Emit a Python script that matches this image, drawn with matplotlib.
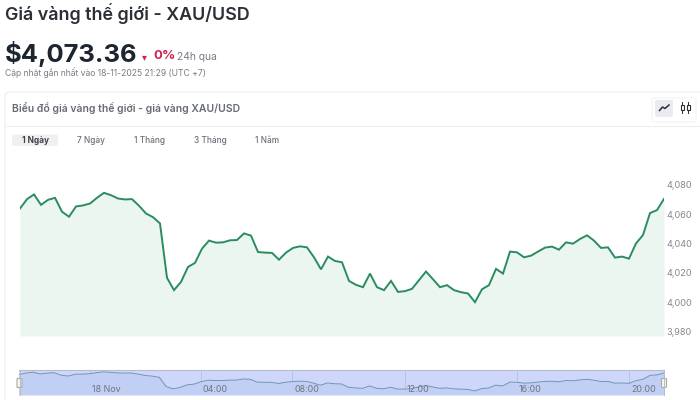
import matplotlib
matplotlib.use("Agg")
import matplotlib.pyplot as plt
from matplotlib.patches import FancyBboxPatch, Rectangle

prices = [4063.9,4070.3,4073.5,4066.4,4069.8,4071.2,4061.7,4058.3,4065.3,4066.0,4067.3,4071.2,
          4074.6,4073.0,4070.7,4070.1,4070.3,4065.8,4060.5,4058.0,4053.7,4016.6,4008.2,4013.8,
          4024.0,4026.8,4036.5,4042.0,4040.6,4040.8,4042.2,4042.4,4046.9,4045.4,4034.2,4033.8,
          4033.6,4029.0,4033.8,4037.0,4038.1,4037.4,4030.6,4022.4,4031.1,4028.1,4027.2,4014.5,
          4011.8,4010.2,4019.5,4010.2,4008.2,4014.5,4007.0,4007.5,4009.1,4015.0,4020.9,4015.6,
          4010.2,4011.6,4008.2,4006.8,4005.9,4000.0,4008.8,4011.6,4022.7,4019.5,4034.5,4034.0,
          4030.6,4031.7,4034.5,4037.2,4037.9,4035.8,4040.8,4039.9,4043.1,4045.6,4042.0,4037.0,
          4037.4,4030.4,4031.1,4029.7,4040.1,4045.8,4060.8,4062.8,4070.5]
y_ticks = [3980, 4000, 4020, 4040, 4060, 4080]
y_labels = ["3,980", "4,000", "4,020", "4,040", "4,060", "4,080"]
nav_pos = [10.1, 25.9, 39.0, 55.0, 71.0, 87.0]
nav_labels = ["18 Nov", "04:00", "08:00", "12:00", "16:00", "20:00"]
ranges = ["1 Ngày", "7 Ngày", "1 Tháng", "3 Tháng", "1 Năm"]
range_x = [35, 91, 149, 210, 267]

FONT = ["Inter", "DejaVu Sans"]
plt.rcParams["font.family"] = FONT
W, H = 700, 400
fig = plt.figure(figsize=(7, 4), dpi=100, facecolor="white")

def rect(l, t, r, b):
    return [l / W, 1 - b / H, (r - l) / W, (b - t) / H]

# page chrome
ui = fig.add_axes([0, 0, 1, 1], zorder=0)
ui.set_xlim(0, W); ui.set_ylim(H, 0); ui.axis("off")
ui.text(5, 14, "Giá vàng thế giới - XAU/USD", fontsize=12.9, fontweight=600, color="#2b2f36", va="center")
ui.text(5, 54, "$4,073.36", fontsize=18.4, fontweight=700, color="#1d2530", va="center")
ui.text(142, 57, "▾", fontsize=7, color="#d0234f", va="center", ha="left", family="DejaVu Sans")
ui.text(153, 56, "0%", fontsize=9.5, fontweight=700, color="#d0234f", va="center")
ui.text(177, 57.5, "24h qua", fontsize=7.4, color="#777c85", va="center")
ui.text(5, 73, "Cập nhật gần nhất vào 18-11-2025 21:29 (UTC +7)", fontsize=6.2, color="#777c85", va="center")
ui.add_patch(FancyBboxPatch((5, 92), 720, 320, boxstyle="round,pad=0,rounding_size=5",
                            fc="white", ec="#eeeeef", lw=0.8))
ui.plot([5, 700], [126, 126], color="#eeeeef", lw=0.8)
ui.text(12, 108, "Biểu đồ giá vàng thế giới - giá vàng XAU/USD", fontsize=7.5, fontweight=600, color="#666b73", va="center")
ui.add_patch(FancyBboxPatch((12, 134.5), 46, 11.5, boxstyle="round,pad=0,rounding_size=2", fc="#f0f0f1", ec="none"))
for i, (lab, x) in enumerate(zip(ranges, range_x)):
    ui.text(x, 140.5, lab, fontsize=6, fontweight=700 if i == 0 else 500,
            color="#3c4047" if i == 0 else "#6a6f77", ha="center", va="center")
# chart-type switch
ui.add_patch(FancyBboxPatch((652, 98), 44, 24, boxstyle="round,pad=0,rounding_size=2", fc="white", ec="#f1f1f2", lw=0.7))
ui.add_patch(FancyBboxPatch((655, 100), 18, 17, boxstyle="round,pad=0,rounding_size=2", fc="#e9ebf1", ec="none"))
ui.plot([659.5, 662.5, 665, 669], [110.5, 107, 108.5, 105], color="#2a2f38", lw=1.1)
for x, (a, b), (c, d) in [(682, (102, 113), (105, 110)), (688, (102, 113), (105, 110))]:
    ui.plot([x, x], [a, b], color="#2a2f38", lw=0.7)
    ui.add_patch(Rectangle((x - 1.5, c), 3, d - c, fc="white", ec="#2a2f38", lw=0.8, zorder=3))

# main chart
ax = fig.add_axes(rect(20, 160, 664, 336), zorder=1)
ax.patch.set_alpha(0)
x = list(range(len(prices)))
ax.fill_between(x, prices, 3976.9, color="#ebf6f0", lw=0)
ax.plot(x, prices, color="#2a8c60", lw=1.4, solid_joinstyle="miter")
ax.set_xlim(0, len(prices) - 1)
ax.set_ylim(3976.9, 4097)
ax.set_xticks([])
ax.yaxis.tick_right()
ax.set_yticks(y_ticks, y_labels)
ax.tick_params(axis="y", length=0, pad=2, labelsize=6.6, labelcolor="#85888f")
for s in ax.spines.values():
    s.set_visible(False)

# navigator
nav = fig.add_axes(rect(19, 370, 664, 395), zorder=1)
nav.set_facecolor("#ced7fa")
nav.fill_between(x, prices, 3984, color="#c2cff5", lw=0)
nav.plot(x, prices, color="#6f96b5", lw=0.7)
nav.set_xlim(0, len(prices) - 1)
nav.set_ylim(3984, 4082)
nav.set_yticks([])
nav.set_xticks(nav_pos, [])
nav.tick_params(axis="x", length=0)
nav.grid(axis="x", color="#b4bedf", lw=0.6)
nav.set_axisbelow(True)
for p, lab in zip(nav_pos, nav_labels):
    nav.annotate(lab, (p, 0), xycoords=("data", "axes fraction"), xytext=(1.5, 0.5), textcoords="offset points",
                 fontsize=6.4, color="#6f7480", ha="left", va="bottom")
for s in nav.spines.values():
    s.set_visible(False)
nav.spines["top"].set_visible(True); nav.spines["top"].set_color("#b9bcc6"); nav.spines["top"].set_linewidth(0.8)

over = fig.add_axes([0, 0, 1, 1], zorder=2)
over.set_xlim(0, W); over.set_ylim(H, 0); over.axis("off")
for hx in (19.5, 664):
    over.plot([hx, hx], [370, 395], color="#b9bcc6", lw=0.7)
    over.add_patch(FancyBboxPatch((hx - 2.5, 378.5), 5, 9, boxstyle="round,pad=0,rounding_size=1", fc="#f4f4f4", ec="#a9a9a2", lw=0.8))

fig.savefig("out.png", dpi=100)
